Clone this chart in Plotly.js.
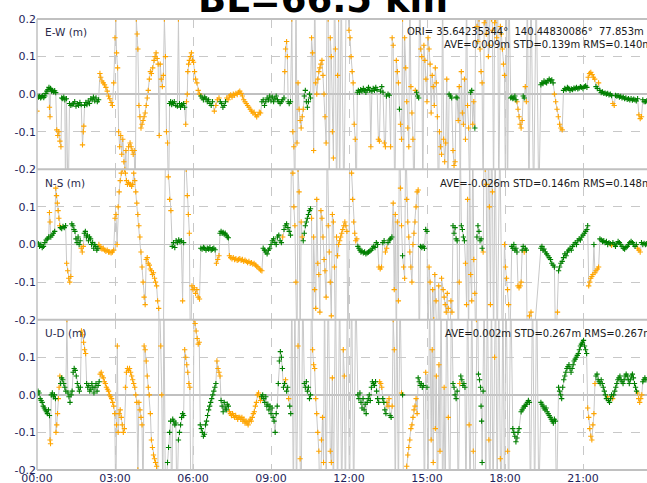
<!DOCTYPE html>
<html>
<head>
<meta charset="utf-8">
<script src="https://cdn.plot.ly/plotly-3.0.1.min.js"></script>
<style>html,body{margin:0;padding:0;background:#fff;}#chart{width:647px;height:483px;}</style>
</head>
<body>
<div id="chart"></div>
<script>
// [time (h), value (m), quality: 1 = fix, 2 = float]
const EW = [
[0.00,-0.045,2],[0.02,-0.005,1],[0.06,-0.008,1],[0.10,-0.006,1],[0.14,-0.010,1],[0.18,-0.007,1],[0.22,-0.004,1],[0.26,-0.009,1],[0.30,-0.005,1],[0.34,0.002,1],[0.38,0.008,1],[0.42,0.012,1],[0.46,0.018,1],[0.48,-0.035,2],[0.50,-0.060,2],[0.52,0.015,1],[0.56,0.008,1],[0.60,0.010,1],[0.64,0.006,1],[0.68,0.009,1],[0.72,0.004,1],[0.76,-0.095,2],[0.80,-0.110,2],[0.84,-0.100,2],[0.88,-0.125,2],[0.92,-0.140,2],[0.95,-0.010,1],[0.99,-0.012,1],[1.03,-0.008,1],[1.07,-0.015,1],[1.10,-0.3,2],[1.13,-0.012,1],[1.20,-0.3,2],[1.25,-0.025,1],[1.30,-0.030,1],[1.35,-0.028,1],[1.40,-0.025,1],[1.45,-0.020,1],[1.50,-0.032,1],[1.55,-0.025,1],[1.60,-0.030,1],[1.65,-0.022,1],[1.70,-0.028,1],[1.75,-0.135,2],[1.78,-0.100,2],[1.80,-0.085,2],[1.83,-0.030,1],[1.88,-0.022,1],[1.92,-0.028,1],[1.97,-0.018,1],[2.02,-0.025,1],[2.07,-0.012,1],[2.12,-0.015,1],[2.17,-0.008,1],[2.22,-0.018,1],[2.27,-0.010,1],[2.32,-0.020,1],[2.37,-0.015,1],[2.42,0.055,2],[2.45,0.045,2],[2.50,0.035,2],[2.55,0.030,2],[2.60,0.025,2],[2.65,0.018,2],[2.70,0.008,2],[2.75,-0.005,2],[2.80,-0.012,2],[2.85,-0.022,2],[2.90,-0.030,2],[2.95,0.030,2],[3.00,0.150,2],[3.03,0.200,2],[3.06,0.110,2],[3.10,0.070,2],[3.14,-0.100,2],[3.18,-0.140,2],[3.22,-0.110,2],[3.26,-0.160,2],[3.30,-0.120,2],[3.34,-0.180,2],[3.38,-0.200,2],[3.42,-0.150,2],[3.46,-0.3,2],[3.52,-0.140,2],[3.58,-0.130,2],[3.62,-0.140,2],[3.66,-0.150,2],[3.70,-0.160,2],[3.74,-0.150,2],[3.78,-0.3,2],[3.82,0.200,2],[3.85,0.160,2],[3.88,0.120,2],[3.92,-0.030,2],[3.96,-0.060,2],[4.00,-0.090,2],[4.04,-0.080,2],[4.08,-0.070,2],[4.12,-0.060,2],[4.16,-0.050,2],[4.20,-0.030,2],[4.24,-0.010,2],[4.28,0.010,2],[4.32,0.040,2],[4.36,0.060,2],[4.40,0.055,2],[4.45,0.070,2],[4.50,0.090,2],[4.54,0.100,2],[4.58,0.110,2],[4.62,0.095,2],[4.66,0.080,2],[4.70,-0.110,2],[4.74,0.080,2],[4.78,0.040,2],[4.82,0.020,2],[4.86,0.050,2],[4.90,0.200,2],[4.94,0.100,2],[4.98,-0.100,2],[5.02,-0.130,2],[5.06,-0.3,2],[5.10,-0.025,1],[5.14,-0.020,1],[5.18,-0.028,1],[5.21,-0.022,1],[5.24,-0.025,1],[5.28,-0.020,1],[5.34,-0.030,1],[5.40,-0.032,1],[5.44,0.200,2],[5.48,-0.025,1],[5.52,-0.035,1],[5.56,-0.028,1],[5.60,-0.030,1],[5.64,-0.025,1],[5.68,-0.035,1],[5.72,-0.080,2],[5.75,-0.020,2],[5.78,0.000,2],[5.80,0.060,2],[5.83,0.080,2],[5.86,0.090,2],[5.90,0.100,2],[5.94,0.110,2],[5.98,0.090,2],[6.02,0.085,2],[6.06,0.060,2],[6.10,0.040,2],[6.15,0.030,2],[6.20,0.010,2],[6.25,0.000,2],[6.30,-0.005,1],[6.35,-0.010,1],[6.40,-0.015,1],[6.45,-0.008,1],[6.50,-0.012,1],[6.55,-0.020,1],[6.60,-0.015,1],[6.65,-0.025,1],[6.70,-0.030,1],[6.75,-0.020,1],[6.82,-0.045,2],[6.88,-0.030,2],[6.94,-0.015,2],[7.00,-0.010,2],[7.05,-0.020,1],[7.10,-0.025,1],[7.15,-0.035,1],[7.20,-0.030,1],[7.25,-0.020,1],[7.30,-0.010,2],[7.35,-0.015,2],[7.40,-0.005,2],[7.45,-0.002,2],[7.50,-0.008,2],[7.55,0.000,2],[7.60,-0.003,2],[7.65,0.002,2],[7.70,-0.001,2],[7.75,0.005,2],[7.80,0.008,2],[7.85,0.002,2],[7.90,-0.005,2],[7.95,-0.015,2],[8.00,-0.020,2],[8.05,-0.025,2],[8.10,-0.030,2],[8.15,-0.035,2],[8.20,-0.040,2],[8.25,-0.045,2],[8.30,-0.050,2],[8.35,-0.048,2],[8.40,-0.055,2],[8.45,-0.060,2],[8.50,-0.055,2],[8.55,-0.048,2],[8.60,-0.050,2],[8.65,-0.020,1],[8.70,-0.015,1],[8.75,-0.030,1],[8.80,-0.020,1],[8.85,-0.010,1],[8.90,-0.015,1],[8.95,-0.005,1],[9.00,-0.018,1],[9.05,-0.008,1],[9.10,-0.020,1],[9.15,-0.012,1],[9.20,-0.005,1],[9.25,-0.015,1],[9.30,-0.020,1],[9.35,-0.025,1],[9.40,-0.020,1],[9.45,-0.015,1],[9.50,-0.010,1],[9.53,0.060,2],[9.56,0.120,2],[9.60,0.140,2],[9.63,0.100,2],[9.66,-0.020,1],[9.70,-0.025,1],[9.75,-0.020,1],[9.80,0.200,2],[9.84,-0.100,2],[9.88,-0.140,2],[9.92,-0.3,2],[9.96,0.3,2],[10.00,-0.130,2],[10.04,0.030,2],[10.08,-0.040,2],[10.12,-0.070,2],[10.16,-0.090,2],[10.20,-0.060,2],[10.24,-0.040,2],[10.28,-0.005,1],[10.32,0.010,1],[10.36,-0.020,1],[10.40,-0.035,1],[10.44,-0.020,1],[10.48,0.000,1],[10.52,-0.010,1],[10.56,0.150,2],[10.60,0.110,2],[10.64,-0.150,2],[10.68,0.3,2],[10.72,0.030,2],[10.76,0.000,2],[10.80,0.040,2],[10.84,0.060,2],[10.88,0.070,2],[10.92,0.080,2],[10.96,0.090,2],[11.00,0.050,2],[11.04,0.000,2],[11.08,-0.060,2],[11.12,-0.130,2],[11.16,0.3,2],[11.20,0.200,2],[11.24,-0.3,2],[11.28,0.150,2],[11.32,0.100,2],[11.36,-0.100,2],[11.40,-0.170,2],[11.44,0.3,2],[11.48,0.120,2],[11.52,-0.3,2],[11.56,0.050,2],[11.60,0.200,2],[11.64,-0.3,2],[11.70,0.3,2],[11.80,-0.3,2],[11.90,0.3,2],[12.00,0.170,2],[12.04,0.150,2],[12.08,0.100,2],[12.12,0.060,2],[12.16,0.030,2],[12.20,-0.080,2],[12.24,-0.120,2],[12.28,-0.3,2],[12.32,0.005,1],[12.36,0.010,1],[12.40,0.005,1],[12.45,0.012,1],[12.50,0.008,1],[12.55,0.015,1],[12.60,0.010,1],[12.65,0.005,1],[12.70,0.012,1],[12.75,0.018,1],[12.80,0.010,1],[12.84,-0.140,2],[12.88,0.008,1],[12.93,0.015,1],[12.98,0.010,1],[13.03,0.018,1],[13.08,0.012,1],[13.13,-0.120,2],[13.17,-0.125,2],[13.21,0.008,1],[13.26,0.020,1],[13.31,0.005,1],[13.36,-0.130,2],[13.40,-0.140,2],[13.44,-0.005,1],[13.50,0.000,1],[13.55,-0.003,1],[13.60,-0.140,2],[13.66,0.150,2],[13.70,0.130,2],[13.76,-0.3,2],[13.82,0.090,2],[13.86,0.060,2],[13.90,0.030,2],[13.94,-0.040,1],[13.98,-0.080,2],[14.02,-0.120,2],[14.06,0.200,2],[14.10,-0.3,2],[14.14,0.150,2],[14.18,0.070,2],[14.22,-0.020,2],[14.26,-0.090,2],[14.30,-0.140,2],[14.34,0.3,2],[14.38,0.020,2],[14.42,-0.050,2],[14.46,-0.120,2],[14.50,-0.3,2],[14.55,0.010,2],[14.60,0.005,1],[14.64,-0.005,1],[14.68,-0.010,1],[14.72,0.3,2],[14.76,0.120,2],[14.80,0.100,2],[14.84,-0.3,2],[14.88,0.130,2],[14.92,0.090,2],[14.96,0.040,2],[15.00,-0.020,2],[15.04,0.150,2],[15.08,0.120,2],[15.12,0.080,2],[15.16,-0.050,2],[15.20,0.050,2],[15.24,0.020,2],[15.28,-0.030,2],[15.32,0.070,2],[15.36,0.030,2],[15.40,-0.060,2],[15.44,-0.3,2],[15.48,-0.100,2],[15.52,-0.140,2],[15.56,-0.160,2],[15.60,0.3,2],[15.64,-0.120,2],[15.68,-0.180,2],[15.72,-0.130,2],[15.76,0.040,2],[15.80,-0.3,2],[15.85,0.000,1],[15.90,-0.005,1],[15.95,-0.010,1],[16.00,-0.150,2],[16.04,-0.190,2],[16.08,-0.180,2],[16.12,-0.008,1],[16.16,-0.010,1],[16.20,-0.070,2],[16.24,0.020,2],[16.28,-0.3,2],[16.32,0.060,2],[16.36,-0.050,2],[16.40,-0.080,2],[16.44,0.040,2],[16.48,-0.120,2],[16.52,0.3,2],[16.56,-0.030,2],[16.60,-0.090,2],[16.64,-0.3,2],[16.68,0.005,1],[16.72,0.010,1],[16.76,-0.080,2],[16.80,-0.020,2],[16.84,-0.090,1],[16.88,0.3,2],[16.92,0.180,2],[16.96,0.140,2],[17.00,0.200,2],[17.04,0.120,2],[17.08,0.060,2],[17.12,0.030,2],[17.16,-0.3,2],[17.20,0.190,2],[17.24,0.200,2],[17.28,0.160,2],[17.32,0.3,2],[17.36,0.100,2],[17.40,0.130,2],[17.44,0.3,2],[17.48,0.200,2],[17.52,0.170,2],[17.56,-0.3,2],[17.60,0.190,2],[17.64,0.200,2],[17.68,0.150,2],[17.72,0.3,2],[17.76,-0.3,2],[17.82,0.180,2],[17.86,0.160,2],[17.90,0.120,2],[17.94,0.080,2],[17.98,0.050,2],[18.02,-0.3,2],[18.06,0.3,2],[18.10,-0.3,2],[18.15,0.3,2],[18.22,-0.010,1],[18.26,-0.008,1],[18.30,-0.012,1],[18.34,-0.010,1],[18.38,-0.005,1],[18.42,-0.015,1],[18.46,-0.020,2],[18.50,-0.040,2],[18.54,-0.060,2],[18.58,-0.080,2],[18.62,-0.090,2],[18.66,-0.070,2],[18.70,-0.005,1],[18.74,-0.010,1],[18.78,0.020,2],[18.82,-0.020,2],[18.86,0.3,2],[18.92,-0.3,2],[19.00,0.3,2],[19.10,-0.3,2],[19.20,0.3,2],[19.30,-0.3,2],[19.38,0.025,1],[19.42,0.030,1],[19.46,0.028,1],[19.50,0.035,1],[19.55,0.032,1],[19.60,0.030,1],[19.65,0.036,1],[19.70,0.040,1],[19.75,0.035,1],[19.80,0.038,1],[19.85,0.030,1],[19.90,0.000,2],[19.95,-0.020,2],[20.00,-0.040,2],[20.05,-0.060,2],[20.10,-0.080,2],[20.15,-0.090,2],[20.20,-0.095,2],[20.25,0.010,1],[20.30,0.015,1],[20.35,0.012,1],[20.40,0.018,1],[20.45,0.015,1],[20.50,0.010,1],[20.55,0.014,1],[20.60,0.012,1],[20.65,0.016,1],[20.70,0.015,1],[20.75,0.018,1],[20.80,0.014,1],[20.85,0.016,1],[20.90,0.020,1],[20.95,0.018,1],[21.00,0.015,1],[21.05,0.020,1],[21.10,0.022,1],[21.15,0.018,1],[21.20,0.045,2],[21.25,0.055,2],[21.30,0.058,2],[21.35,0.052,2],[21.40,0.045,2],[21.45,0.040,2],[21.50,0.020,1],[21.55,0.015,1],[21.60,0.030,2],[21.65,0.010,1],[21.70,0.004,1],[21.75,0.006,1],[21.80,0.002,1],[21.85,0.003,1],[21.90,0.000,1],[21.95,0.002,1],[22.00,-0.002,1],[22.05,0.000,1],[22.10,-0.004,1],[22.15,-0.025,2],[22.20,-0.030,2],[22.25,-0.003,1],[22.30,-0.005,1],[22.35,-0.004,1],[22.40,-0.008,1],[22.45,-0.006,1],[22.50,-0.010,1],[22.55,-0.008,1],[22.60,-0.012,1],[22.65,-0.010,1],[22.70,-0.014,1],[22.75,-0.012,1],[22.80,-0.015,1],[22.85,-0.012,1],[22.90,-0.016,1],[22.95,-0.013,1],[23.00,-0.015,1],[23.05,-0.018,1],[23.10,-0.012,1],[23.15,-0.055,2],[23.20,-0.065,2],[23.25,-0.060,2],[23.30,-0.015,1],[23.35,-0.020,1],[23.40,-0.020,1],[23.45,-0.018,1]
];
const NS = [
[0.00,0.005,1],[0.05,0.002,1],[0.10,-0.005,1],[0.15,0.000,1],[0.20,-0.008,1],[0.25,-0.005,1],[0.30,0.005,1],[0.35,0.012,1],[0.40,0.015,1],[0.45,0.020,1],[0.48,0.085,2],[0.50,0.060,2],[0.53,0.020,1],[0.58,0.025,1],[0.63,0.030,1],[0.68,0.035,1],[0.72,0.150,2],[0.75,0.130,2],[0.78,0.110,2],[0.81,0.090,2],[0.84,0.070,2],[0.87,0.050,2],[0.90,0.045,1],[0.95,0.042,1],[1.00,0.048,1],[1.05,0.045,1],[1.10,0.050,1],[1.14,-0.050,2],[1.18,-0.070,2],[1.22,-0.090,2],[1.26,-0.100,2],[1.30,-0.085,2],[1.34,0.055,1],[1.38,0.050,1],[1.42,0.040,1],[1.46,0.035,1],[1.50,0.015,1],[1.54,0.005,1],[1.58,0.020,1],[1.62,0.000,1],[1.66,0.010,1],[1.70,-0.010,2],[1.74,-0.020,2],[1.78,-0.005,2],[1.82,0.030,1],[1.86,0.035,1],[1.90,0.020,1],[1.94,0.025,1],[1.98,0.010,1],[2.02,0.020,1],[2.06,0.015,1],[2.10,0.000,1],[2.14,0.005,1],[2.18,-0.010,1],[2.22,0.000,1],[2.26,-0.005,1],[2.30,-0.015,1],[2.34,-0.010,1],[2.38,0.000,2],[2.42,-0.005,2],[2.46,-0.010,2],[2.50,-0.012,2],[2.55,-0.010,2],[2.60,-0.015,2],[2.65,-0.018,2],[2.70,-0.015,2],[2.75,-0.020,2],[2.80,-0.020,2],[2.85,-0.022,2],[2.90,-0.020,2],[2.95,-0.015,2],[3.00,0.070,2],[3.04,0.080,2],[3.08,0.000,2],[3.12,0.100,2],[3.16,0.140,2],[3.20,0.170,2],[3.24,0.190,2],[3.28,0.200,2],[3.32,0.210,2],[3.36,0.200,2],[3.40,0.190,2],[3.44,0.170,2],[3.48,0.160,2],[3.52,0.165,2],[3.56,0.160,2],[3.60,0.160,2],[3.64,0.155,2],[3.68,0.160,2],[3.72,0.190,2],[3.76,0.170,2],[3.80,0.140,2],[3.84,0.110,2],[3.88,0.080,2],[3.92,0.050,2],[3.96,0.020,2],[4.00,-0.020,2],[4.04,-0.060,2],[4.08,-0.100,2],[4.12,-0.140,2],[4.16,-0.160,2],[4.20,-0.040,2],[4.24,-0.035,2],[4.28,-0.050,2],[4.32,-0.055,2],[4.36,-0.065,2],[4.40,-0.070,2],[4.44,-0.080,2],[4.48,-0.075,2],[4.52,-0.090,2],[4.56,-0.100,2],[4.60,-0.110,2],[4.64,-0.150,2],[4.68,-0.170,2],[4.72,-0.3,2],[4.85,-0.3,2],[4.95,0.3,2],[5.05,0.180,2],[5.10,0.120,2],[5.15,0.090,2],[5.20,-0.005,1],[5.25,0.005,1],[5.30,-0.008,1],[5.35,0.010,1],[5.40,0.005,1],[5.45,0.012,1],[5.50,0.008,1],[5.55,0.010,1],[5.60,-0.150,2],[5.64,0.005,1],[5.70,0.3,2],[5.74,0.200,2],[5.78,0.130,2],[5.82,0.080,2],[5.86,0.030,2],[5.90,-0.3,2],[5.96,-0.110,2],[6.00,-0.120,2],[6.05,-0.115,2],[6.10,-0.130,2],[6.15,-0.120,2],[6.20,-0.140,2],[6.25,-0.145,2],[6.30,-0.010,1],[6.35,-0.012,1],[6.40,-0.008,1],[6.45,-0.010,1],[6.50,-0.015,1],[6.55,-0.010,1],[6.60,-0.012,1],[6.65,-0.008,1],[6.70,-0.015,1],[6.75,-0.012,1],[6.80,-0.010,1],[6.85,-0.014,1],[6.90,-0.050,2],[6.95,-0.040,2],[7.00,-0.030,2],[7.04,0.030,1],[7.08,0.035,1],[7.12,0.030,1],[7.16,0.032,1],[7.20,0.028,1],[7.24,0.030,1],[7.28,0.025,1],[7.32,0.020,1],[7.36,0.018,1],[7.40,-0.030,2],[7.45,-0.035,2],[7.50,-0.038,2],[7.55,-0.035,2],[7.60,-0.040,2],[7.65,-0.038,2],[7.70,-0.042,2],[7.75,-0.040,2],[7.80,-0.038,2],[7.85,-0.042,2],[7.90,-0.040,2],[7.95,-0.045,2],[8.00,-0.042,2],[8.05,-0.045,2],[8.10,-0.048,2],[8.15,-0.045,2],[8.20,-0.050,2],[8.25,-0.048,2],[8.30,-0.052,2],[8.35,-0.050,2],[8.40,-0.055,2],[8.45,-0.058,2],[8.50,-0.060,2],[8.55,-0.065,2],[8.60,-0.068,2],[8.65,-0.070,2],[8.70,-0.010,1],[8.75,-0.015,1],[8.80,-0.020,1],[8.85,-0.025,1],[8.90,-0.015,1],[8.95,-0.010,1],[9.00,0.000,1],[9.05,0.010,1],[9.10,0.015,1],[9.15,0.005,1],[9.20,0.000,1],[9.25,0.020,1],[9.30,0.025,1],[9.35,0.010,1],[9.40,0.005,1],[9.45,0.020,2],[9.50,0.040,1],[9.55,0.050,1],[9.60,0.055,1],[9.65,0.045,1],[9.70,0.035,1],[9.75,0.025,1],[9.80,0.3,2],[9.84,0.190,2],[9.88,0.100,2],[9.92,0.050,2],[9.96,-0.100,2],[10.00,-0.3,2],[10.04,0.200,2],[10.08,0.140,2],[10.12,-0.3,2],[10.16,0.060,2],[10.20,0.020,2],[10.24,0.010,1],[10.28,0.030,1],[10.32,0.050,1],[10.36,0.060,1],[10.40,0.070,1],[10.44,0.080,1],[10.48,0.090,1],[10.52,0.095,1],[10.56,0.070,2],[10.60,-0.3,2],[10.64,0.020,2],[10.68,-0.120,2],[10.72,-0.170,2],[10.76,0.120,2],[10.80,-0.050,2],[10.84,-0.080,2],[10.88,-0.180,2],[10.92,0.090,2],[10.96,0.070,2],[11.00,0.020,2],[11.04,-0.040,2],[11.08,-0.070,2],[11.12,-0.140,2],[11.16,0.3,2],[11.20,0.050,2],[11.24,-0.020,2],[11.28,-0.100,2],[11.32,-0.190,2],[11.36,0.080,2],[11.40,0.060,2],[11.44,-0.060,2],[11.48,-0.3,2],[11.52,0.020,2],[11.56,-0.030,2],[11.60,0.000,2],[11.64,0.010,2],[11.68,0.020,2],[11.72,0.030,2],[11.76,0.040,2],[11.80,0.050,2],[11.84,0.060,2],[11.88,0.050,2],[11.92,0.035,2],[11.96,-0.3,2],[12.04,0.3,2],[12.10,0.190,2],[12.14,0.120,2],[12.18,0.060,2],[12.22,0.030,2],[12.26,0.010,2],[12.30,0.015,2],[12.34,-0.005,1],[12.38,-0.010,1],[12.42,-0.015,1],[12.46,-0.020,1],[12.50,-0.018,1],[12.55,-0.022,1],[12.60,-0.020,1],[12.65,-0.025,1],[12.70,-0.022,1],[12.75,-0.020,1],[12.80,-0.018,1],[12.85,-0.015,1],[12.90,-0.010,1],[12.95,-0.005,1],[13.00,-0.008,1],[13.05,0.005,1],[13.10,0.000,1],[13.15,-0.060,2],[13.20,-0.065,2],[13.25,-0.060,2],[13.30,0.005,1],[13.35,0.010,1],[13.40,-0.020,2],[13.45,-0.010,2],[13.50,0.005,1],[13.55,0.012,1],[13.60,0.015,1],[13.65,0.020,1],[13.70,0.110,2],[13.74,-0.120,2],[13.78,0.080,2],[13.82,-0.3,2],[13.86,0.060,2],[13.90,-0.150,2],[13.94,0.3,2],[13.98,0.150,2],[14.02,0.050,2],[14.06,-0.030,1],[14.10,-0.060,2],[14.14,-0.090,2],[14.18,0.3,2],[14.22,0.120,2],[14.26,0.060,2],[14.30,0.020,2],[14.34,-0.020,2],[14.38,-0.060,2],[14.42,-0.100,2],[14.46,0.000,2],[14.50,0.030,2],[14.54,0.060,2],[14.58,0.100,2],[14.62,0.140,2],[14.66,0.145,2],[14.70,-0.3,2],[14.75,-0.005,1],[14.80,-0.008,1],[14.85,-0.005,1],[14.90,-0.010,1],[14.95,0.040,1],[15.00,0.035,1],[15.04,-0.3,2],[15.08,-0.060,2],[15.12,-0.100,2],[15.16,-0.3,2],[15.22,-0.120,2],[15.26,-0.200,2],[15.30,-0.080,2],[15.35,-0.150,2],[15.40,-0.3,2],[15.45,-0.110,2],[15.50,-0.3,2],[15.56,-0.090,2],[15.62,-0.120,2],[15.66,-0.140,2],[15.70,-0.160,2],[15.74,-0.180,2],[15.78,-0.130,2],[15.82,-0.170,2],[15.86,-0.3,2],[15.92,-0.150,2],[15.96,-0.180,2],[16.00,0.050,1],[16.04,0.030,1],[16.08,0.045,1],[16.12,0.015,1],[16.16,0.010,1],[16.20,-0.3,2],[16.24,-0.100,2],[16.28,0.3,2],[16.32,0.050,1],[16.36,0.040,1],[16.40,0.020,1],[16.44,0.010,1],[16.48,-0.050,2],[16.52,-0.160,2],[16.56,0.120,2],[16.60,-0.3,2],[16.64,0.3,2],[16.68,-0.080,2],[16.72,-0.150,2],[16.76,0.3,2],[16.80,-0.040,2],[16.84,-0.130,2],[16.88,-0.3,2],[16.92,0.020,1],[16.96,0.050,1],[17.00,0.035,1],[17.04,0.010,1],[17.08,0.015,1],[17.12,-0.010,1],[17.16,-0.020,2],[17.20,0.3,2],[17.24,0.200,2],[17.28,0.160,2],[17.32,-0.3,2],[17.36,0.3,2],[17.40,0.100,2],[17.44,-0.160,2],[17.48,0.3,2],[17.52,0.140,2],[17.56,-0.3,2],[17.62,0.3,2],[17.70,-0.3,2],[17.80,0.3,2],[17.90,-0.3,2],[17.98,0.000,2],[18.02,-0.060,2],[18.06,-0.090,2],[18.10,-0.120,2],[18.14,-0.160,2],[18.18,-0.3,2],[18.26,-0.005,1],[18.30,-0.010,1],[18.34,0.000,1],[18.38,-0.015,1],[18.42,-0.010,1],[18.46,-0.020,1],[18.50,-0.110,2],[18.54,-0.115,2],[18.58,-0.110,2],[18.62,-0.100,2],[18.66,-0.015,1],[18.70,-0.005,1],[18.74,-0.020,2],[18.78,-0.010,1],[18.82,-0.015,1],[18.86,-0.3,2],[18.94,-0.190,2],[19.00,-0.180,2],[19.06,-0.3,2],[19.38,-0.010,1],[19.42,-0.005,1],[19.46,-0.015,1],[19.50,-0.012,1],[19.55,-0.020,1],[19.60,-0.025,1],[19.65,-0.030,1],[19.70,-0.035,1],[19.75,-0.040,1],[19.80,-0.050,1],[19.85,-0.055,1],[19.90,-0.060,1],[19.95,-0.3,2],[20.02,-0.180,2],[20.06,-0.070,1],[20.10,-0.060,1],[20.15,-0.050,1],[20.20,-0.045,1],[20.25,-0.035,1],[20.30,-0.025,1],[20.35,-0.030,1],[20.40,-0.020,1],[20.45,-0.015,1],[20.50,-0.010,1],[20.55,-0.015,1],[20.60,-0.005,1],[20.65,0.000,1],[20.70,0.005,1],[20.75,0.000,1],[20.80,0.010,1],[20.85,0.015,1],[20.90,0.012,1],[20.95,0.020,1],[21.00,0.025,1],[21.05,0.030,1],[21.10,0.035,1],[21.15,0.040,1],[21.18,0.050,1],[21.22,-0.110,2],[21.26,-0.100,2],[21.30,-0.090,2],[21.34,-0.085,2],[21.38,-0.080,2],[21.42,0.000,1],[21.46,-0.075,2],[21.50,-0.070,2],[21.55,-0.065,2],[21.60,-0.060,2],[21.65,0.015,1],[21.70,0.012,1],[21.75,0.008,1],[21.80,0.010,1],[21.85,0.005,1],[21.90,0.008,1],[21.95,0.000,1],[22.00,0.005,1],[22.05,0.002,1],[22.10,-0.002,2],[22.15,0.005,1],[22.20,0.000,1],[22.25,-0.005,1],[22.30,0.002,1],[22.35,0.008,1],[22.40,0.005,1],[22.45,0.000,1],[22.50,-0.005,1],[22.55,-0.010,1],[22.60,-0.012,1],[22.65,-0.008,1],[22.70,-0.005,1],[22.75,0.000,1],[22.80,0.005,1],[22.85,0.008,1],[22.90,0.005,1],[22.95,0.000,1],[23.00,-0.005,1],[23.05,0.000,1],[23.10,-0.010,2],[23.15,-0.015,2],[23.20,-0.020,2],[23.25,0.005,1],[23.30,0.000,1],[23.35,0.003,1],[23.40,0.000,1],[23.45,0.002,1]
];
const UD = [
[0.00,0.000,1],[0.04,0.010,1],[0.08,0.005,1],[0.12,-0.010,1],[0.16,-0.015,1],[0.20,-0.020,1],[0.24,-0.030,1],[0.28,-0.035,1],[0.32,-0.040,1],[0.36,-0.045,1],[0.40,-0.050,1],[0.44,-0.040,1],[0.48,-0.055,1],[0.50,-0.120,2],[0.52,-0.130,2],[0.55,0.000,1],[0.59,0.005,1],[0.63,-0.005,1],[0.67,0.000,1],[0.71,-0.010,1],[0.73,-0.100,2],[0.76,-0.080,2],[0.79,-0.050,2],[0.82,-0.010,2],[0.85,0.020,2],[0.88,0.050,2],[0.91,0.030,1],[0.95,0.045,1],[0.99,0.040,1],[1.03,0.030,1],[1.07,0.020,1],[1.11,0.010,1],[1.15,0.200,2],[1.19,0.005,1],[1.23,-0.005,1],[1.27,-0.020,1],[1.31,0.000,1],[1.35,0.010,1],[1.39,0.060,1],[1.43,0.070,1],[1.47,0.065,1],[1.51,0.050,1],[1.55,0.030,1],[1.59,0.020,1],[1.63,0.010,1],[1.67,0.020,1],[1.71,0.170,2],[1.75,0.160,2],[1.79,0.140,2],[1.83,0.120,2],[1.87,0.110,2],[1.91,0.030,1],[1.95,0.020,1],[1.99,0.025,1],[2.03,0.010,1],[2.07,0.015,1],[2.11,0.030,1],[2.15,0.020,1],[2.19,0.005,1],[2.23,0.020,1],[2.27,0.030,1],[2.31,0.010,1],[2.35,0.025,1],[2.39,0.035,1],[2.43,0.055,2],[2.47,0.060,2],[2.51,0.050,2],[2.55,0.045,2],[2.59,0.035,2],[2.63,0.030,2],[2.67,0.020,2],[2.71,0.015,2],[2.75,0.010,2],[2.79,0.000,2],[2.83,-0.005,2],[2.87,-0.010,2],[2.91,-0.020,2],[2.95,-0.030,2],[2.99,-0.050,2],[3.03,-0.3,2],[3.06,-0.080,2],[3.09,0.130,2],[3.12,-0.100,2],[3.16,-0.050,2],[3.20,-0.040,2],[3.24,-0.060,2],[3.28,-0.080,2],[3.32,-0.100,2],[3.36,-0.090,2],[3.40,0.020,2],[3.44,0.060,2],[3.48,0.070,2],[3.52,0.065,2],[3.56,0.070,2],[3.60,0.060,2],[3.64,0.050,2],[3.68,0.040,2],[3.72,0.030,2],[3.76,0.020,2],[3.80,0.000,2],[3.84,-0.020,2],[3.88,-0.200,2],[3.92,-0.020,2],[3.96,-0.040,2],[4.00,-0.060,2],[4.04,-0.080,2],[4.08,-0.3,2],[4.12,0.130,2],[4.16,0.120,2],[4.20,0.090,2],[4.24,0.050,2],[4.28,0.020,2],[4.32,0.000,2],[4.36,-0.050,2],[4.40,-0.120,2],[4.44,-0.140,2],[4.48,-0.160,2],[4.52,-0.170,2],[4.56,-0.180,2],[4.60,-0.190,2],[4.64,-0.3,2],[4.70,0.3,2],[4.76,0.130,2],[4.80,0.000,2],[4.84,-0.3,2],[4.88,0.3,2],[4.94,-0.3,2],[5.02,-0.180,1],[5.06,-0.140,1],[5.10,-0.100,1],[5.14,-0.070,1],[5.18,-0.3,2],[5.22,-0.065,1],[5.26,-0.070,1],[5.30,-0.080,1],[5.34,-0.075,1],[5.38,-0.3,2],[5.44,-0.120,1],[5.48,-0.100,1],[5.52,-0.080,1],[5.56,-0.060,1],[5.60,-0.050,1],[5.64,-0.055,1],[5.68,0.120,2],[5.72,0.100,2],[5.76,0.080,2],[5.80,0.060,2],[5.84,0.030,2],[5.88,0.020,2],[5.92,-0.3,2],[5.98,-0.3,2],[6.04,0.200,2],[6.08,0.190,2],[6.12,0.170,2],[6.16,0.150,2],[6.20,0.135,2],[6.24,0.140,2],[6.28,-0.080,1],[6.32,-0.090,1],[6.36,-0.100,1],[6.40,-0.110,1],[6.44,-0.105,1],[6.48,-0.080,1],[6.52,-0.070,1],[6.56,-0.055,1],[6.60,-0.040,1],[6.64,-0.030,1],[6.68,-0.020,1],[6.72,-0.010,1],[6.76,0.000,1],[6.80,0.010,1],[6.84,0.020,1],[6.88,0.030,1],[6.92,0.090,2],[6.96,0.070,2],[7.00,0.060,2],[7.04,0.050,2],[7.08,-0.015,1],[7.12,-0.030,1],[7.16,-0.045,1],[7.20,-0.020,1],[7.24,-0.035,1],[7.28,-0.040,1],[7.32,-0.025,1],[7.36,-0.030,1],[7.40,-0.045,2],[7.44,-0.050,2],[7.48,-0.055,2],[7.52,-0.050,2],[7.56,-0.055,2],[7.60,-0.060,2],[7.64,-0.055,2],[7.68,-0.060,2],[7.72,-0.065,2],[7.76,-0.060,2],[7.80,-0.060,2],[7.84,-0.065,2],[7.88,-0.060,2],[7.92,-0.070,2],[7.96,-0.065,2],[8.00,-0.075,2],[8.04,-0.070,2],[8.08,-0.075,2],[8.12,-0.080,2],[8.16,-0.070,2],[8.20,-0.065,2],[8.24,-0.070,2],[8.28,-0.060,2],[8.32,-0.050,2],[8.36,-0.045,2],[8.40,-0.030,2],[8.44,-0.020,2],[8.48,0.000,2],[8.52,0.005,2],[8.56,-0.005,2],[8.60,-0.015,2],[8.64,-0.005,1],[8.68,0.000,1],[8.72,-0.010,1],[8.76,-0.020,1],[8.80,-0.005,1],[8.84,-0.030,1],[8.88,-0.025,1],[8.92,-0.040,1],[8.96,-0.030,1],[9.00,-0.050,1],[9.04,-0.035,1],[9.08,-0.060,1],[9.12,-0.070,1],[9.16,-0.100,1],[9.20,-0.050,1],[9.24,-0.030,1],[9.28,0.030,1],[9.32,0.090,1],[9.36,0.115,1],[9.40,0.100,1],[9.44,0.070,1],[9.48,0.020,1],[9.52,0.030,1],[9.56,0.040,2],[9.60,0.010,1],[9.64,0.020,1],[9.68,-0.010,2],[9.72,-0.030,1],[9.76,-0.050,1],[9.80,0.3,2],[9.86,-0.3,2],[9.92,0.3,2],[9.98,-0.3,2],[10.04,0.130,2],[10.08,0.3,2],[10.12,-0.170,2],[10.16,-0.3,2],[10.22,0.3,2],[10.28,0.030,1],[10.32,0.020,1],[10.36,0.035,1],[10.40,0.010,1],[10.44,0.020,1],[10.48,-0.010,1],[10.52,0.000,1],[10.56,0.3,2],[10.60,0.120,2],[10.64,0.080,2],[10.68,0.070,2],[10.72,-0.010,2],[10.76,-0.050,2],[10.80,-0.100,2],[10.84,-0.150,2],[10.88,-0.3,2],[10.94,-0.120,2],[10.98,-0.060,2],[11.02,-0.180,2],[11.06,0.3,2],[11.12,-0.3,2],[11.20,0.3,2],[11.28,-0.150,2],[11.32,-0.180,2],[11.36,0.045,2],[11.40,-0.3,2],[11.48,0.3,2],[11.56,-0.3,2],[11.64,0.3,2],[11.72,-0.3,2],[11.78,0.120,2],[11.82,0.050,2],[11.86,-0.3,2],[11.94,0.3,2],[12.02,-0.3,2],[12.10,0.3,2],[12.18,-0.3,2],[12.26,0.3,2],[12.34,0.000,1],[12.38,-0.010,1],[12.42,0.005,1],[12.46,-0.020,1],[12.50,-0.035,1],[12.54,-0.010,1],[12.58,-0.040,1],[12.62,-0.025,1],[12.66,-0.050,1],[12.70,-0.020,1],[12.74,-0.010,1],[12.78,0.000,1],[12.82,-0.015,1],[12.86,0.020,1],[12.90,0.035,1],[12.94,0.030,1],[12.98,0.025,1],[13.02,0.035,1],[13.06,0.010,1],[13.10,-0.010,1],[13.14,-0.020,1],[13.18,0.035,2],[13.22,0.030,2],[13.26,0.020,2],[13.30,-0.010,1],[13.34,-0.020,1],[13.38,-0.040,1],[13.42,-0.050,1],[13.46,-0.020,2],[13.50,-0.030,2],[13.54,-0.010,2],[13.58,-0.055,1],[13.62,-0.060,1],[13.66,-0.030,2],[13.70,0.200,2],[13.74,0.120,2],[13.78,-0.3,2],[13.84,0.3,2],[13.90,-0.3,2],[13.96,0.3,2],[14.02,0.005,2],[14.06,0.000,1],[14.10,-0.3,2],[14.16,-0.3,2],[14.22,-0.190,2],[14.26,-0.160,2],[14.30,-0.140,2],[14.34,-0.120,2],[14.38,-0.090,2],[14.42,-0.080,2],[14.46,-0.060,2],[14.50,-0.040,2],[14.54,-0.030,2],[14.58,-0.010,2],[14.62,-0.050,2],[14.66,0.045,1],[14.70,0.035,1],[14.74,0.025,1],[14.78,0.030,1],[14.82,0.020,1],[14.86,0.025,1],[14.90,-0.3,2],[14.95,0.060,2],[15.00,0.020,1],[15.04,-0.3,2],[15.10,0.3,2],[15.16,-0.120,2],[15.20,0.120,2],[15.24,-0.180,2],[15.28,0.3,2],[15.32,-0.090,2],[15.36,0.050,2],[15.40,-0.3,2],[15.46,0.080,2],[15.50,-0.150,2],[15.54,0.3,2],[15.60,-0.3,2],[15.66,0.020,2],[15.70,-0.3,2],[15.76,0.3,2],[15.82,-0.060,2],[15.88,-0.3,2],[15.94,0.3,2],[16.00,0.030,1],[16.04,0.020,1],[16.08,0.000,1],[16.12,-0.010,1],[16.16,0.010,1],[16.20,-0.3,2],[16.26,0.030,2],[16.30,0.050,1],[16.34,0.040,1],[16.38,0.025,1],[16.42,0.030,1],[16.46,0.020,1],[16.50,-0.3,2],[16.56,0.3,2],[16.62,-0.080,2],[16.66,-0.3,2],[16.72,0.3,2],[16.78,-0.150,2],[16.84,-0.3,2],[16.90,0.200,2],[16.94,0.3,2],[16.98,0.055,1],[17.02,0.040,1],[17.06,0.020,1],[17.08,-0.030,1],[17.10,-0.070,1],[17.12,-0.180,1],[17.16,0.010,1],[17.20,0.3,2],[17.26,-0.3,2],[17.32,0.3,2],[17.38,-0.120,2],[17.42,-0.3,2],[17.48,0.3,2],[17.54,-0.3,2],[17.60,0.100,2],[17.64,0.3,2],[17.70,-0.3,2],[17.76,0.3,2],[17.82,-0.170,2],[17.86,-0.3,2],[17.92,0.3,2],[17.98,-0.3,2],[18.04,0.3,2],[18.10,-0.150,2],[18.14,-0.3,2],[18.22,0.3,2],[18.30,-0.090,1],[18.34,-0.100,1],[18.38,-0.110,1],[18.42,-0.125,1],[18.46,-0.115,1],[18.50,-0.100,1],[18.54,-0.090,1],[18.62,-0.045,1],[18.66,-0.040,1],[18.70,-0.035,1],[18.74,-0.030,1],[18.78,-0.030,1],[18.82,-0.025,1],[18.86,-0.020,1],[18.90,-0.015,1],[18.94,-0.020,1],[18.98,-0.3,2],[19.06,0.3,2],[19.14,-0.3,2],[19.22,0.3,2],[19.30,-0.3,2],[19.38,-0.020,1],[19.42,-0.025,1],[19.46,-0.030,1],[19.50,-0.035,1],[19.54,-0.040,1],[19.58,-0.035,1],[19.62,-0.045,1],[19.66,-0.050,1],[19.70,-0.055,1],[19.74,-0.060,1],[19.78,-0.065,1],[19.82,-0.070,1],[19.86,-0.075,1],[19.90,-0.065,1],[19.94,-0.070,1],[19.98,-0.3,2],[20.06,0.020,1],[20.10,0.010,1],[20.14,0.000,1],[20.18,-0.010,1],[20.22,0.020,1],[20.26,0.040,1],[20.30,0.050,1],[20.34,0.060,1],[20.38,0.070,1],[20.42,0.075,1],[20.46,0.080,1],[20.50,0.070,1],[20.54,0.060,1],[20.58,0.070,1],[20.62,0.080,1],[20.66,0.090,1],[20.70,0.095,1],[20.74,0.100,1],[20.78,0.105,1],[20.82,0.110,1],[20.86,0.120,1],[20.90,0.130,1],[20.94,0.135,1],[20.98,0.140,1],[21.02,0.145,1],[21.06,0.130,1],[21.10,0.120,1],[21.14,0.110,1],[21.18,-0.035,2],[21.22,-0.060,2],[21.26,-0.090,2],[21.30,-0.110,2],[21.34,-0.120,2],[21.38,-0.080,2],[21.42,-0.050,2],[21.46,0.030,2],[21.50,0.050,1],[21.54,0.055,1],[21.58,0.040,1],[21.62,0.035,1],[21.66,0.030,1],[21.70,0.040,1],[21.74,0.030,1],[21.78,0.020,1],[21.82,0.010,1],[21.86,0.000,1],[21.90,-0.010,1],[21.94,-0.005,2],[21.98,-0.015,1],[22.02,-0.020,1],[22.06,-0.010,1],[22.10,0.000,1],[22.14,-0.010,2],[22.18,0.000,1],[22.22,0.010,1],[22.26,0.020,1],[22.30,0.030,1],[22.34,0.040,1],[22.38,0.045,1],[22.42,0.050,1],[22.46,0.040,1],[22.50,0.035,1],[22.54,0.030,1],[22.58,0.040,1],[22.62,0.050,1],[22.66,0.055,1],[22.70,0.050,1],[22.74,0.040,1],[22.78,0.030,1],[22.82,0.040,1],[22.86,0.050,1],[22.90,0.055,1],[22.94,0.045,1],[22.98,0.030,1],[23.02,0.020,1],[23.06,0.010,1],[23.10,0.005,2],[23.14,-0.010,2],[23.18,-0.020,2],[23.22,-0.010,2],[23.26,0.000,2],[23.30,0.035,1],[23.34,0.040,1],[23.38,0.045,1],[23.42,0.040,1]
];

const xTickVals = [0, 3, 6, 9, 12, 15, 18, 21];
const xTickText = ['00:00', '03:00', '06:00', '09:00', '12:00', '15:00', '18:00', '21:00'];
const yTickValsTop = [0.2, 0.1, 0, -0.1, -0.2];
const yTickTextTop = ['0.2', '0.1', '0.0', '-0.1', '-0.2'];
const yTickValsLow = [0.1, 0, -0.1, -0.2];
const yTickTextLow = ['0.1', '0.0', '-0.1', '-0.2'];
const panelLabels = ['E-W (m)', 'N-S (m)', 'U-D (m)'];
const statTexts = ['AVE=0.009m STD=0.139m RMS=0.140m', 'AVE=-0.026m STD=0.146m RMS=0.148m', 'AVE=0.002m STD=0.267m RMS=0.267m'];
const oriText = 'ORI= 35.64235344°  140.44830086°  77.853m';
const titleText = 'BL=66.5 km';

const FIX = '#008000', FLT = '#ffa500', LINE = '#c8c8c8';
const W = 647, H = 483, ML = 37, MR = 0, MT = 19, MB = 13;
const PW = W - ML - MR, PH = H - MT - MB;
const px = x => (x - ML) / PW;
const py = y => (H - MB - y) / PH;

function build(rows, ax) {
  const s = rows.slice().sort((a, b) => a[0] - b[0]);
  const fix = s.filter(r => r[2] === 1), flt = s.filter(r => r[2] === 2);
  const mk = (arr, c) => ({
    x: arr.map(r => r[0]), y: arr.map(r => r[1]), xaxis: 'x', yaxis: ax,
    type: 'scatter', mode: 'markers', hoverinfo: 'skip',
    marker: {symbol: 'cross-thin', size: 3.8, color: c, line: {color: c, width: 1.1}}
  });
  return [
    {x: s.map(r => r[0]), y: s.map(r => r[1]), xaxis: 'x', yaxis: ax, type: 'scatter',
     mode: 'lines', line: {color: LINE, width: 1}, hoverinfo: 'skip'},
    mk(flt, FLT), mk(fix, FIX)
  ];
}

const data = [].concat(build(EW, 'y'), build(NS, 'y2'), build(UD, 'y3'));

const tickFont = {family: 'DejaVu Sans, sans-serif', size: 11, color: '#1e1e5a'};
function yax(dom, vals, text) {
  return {
    domain: dom, anchor: 'x', range: [-0.2, 0.2], fixedrange: true,
    tickvals: vals, ticktext: text, ticks: '', tickfont: tickFont,
    showgrid: true, gridcolor: '#c8c8c8', griddash: 'dash', gridwidth: 1,
    zeroline: true, zerolinecolor: '#c0c0c0', zerolinewidth: 1.5,
    showline: false
  };
}

const annFont = {family: 'DejaVu Sans, sans-serif', size: 10, color: '#1a1a1a'};
const panelY = [32, 183, 333];
const statX = [442, 438, 443];
const statY = [44, 183, 333];
const annotations = [];
panelLabels.forEach((t, i) => annotations.push({
  text: t, xref: 'paper', yref: 'paper', x: px(43), y: py(panelY[i]),
  xanchor: 'left', yanchor: 'middle', showarrow: false,
  font: {family: 'DejaVu Sans, sans-serif', size: 10.5, color: '#2a2a4a'}
}));
statTexts.forEach((t, i) => annotations.push({
  text: t, xref: 'paper', yref: 'paper', x: px(statX[i]), y: py(statY[i]),
  xanchor: 'left', yanchor: 'middle', showarrow: false, font: annFont
}));
annotations.push({
  text: oriText, xref: 'paper', yref: 'paper', x: px(405), y: py(31),
  xanchor: 'left', yanchor: 'middle', showarrow: false, font: annFont
});
annotations.push({
  text: '<b>' + titleText + '</b>', xref: 'paper', yref: 'paper', x: px(323), y: py(23),
  xanchor: 'center', yanchor: 'bottom', showarrow: false,
  font: {family: 'DejaVu Sans, sans-serif', size: 37, color: '#000000'}
});

const border = {color: '#c0c0c0', width: 2};
const shapes = [
  {type: 'line', xref: 'paper', yref: 'paper', x0: 0, x1: 1.05, y0: 1, y1: 1, line: border},
  {type: 'line', xref: 'paper', yref: 'paper', x0: 0, x1: 1.05, y0: 2/3, y1: 2/3, line: border},
  {type: 'line', xref: 'paper', yref: 'paper', x0: 0, x1: 1.05, y0: 1/3, y1: 1/3, line: border},
  {type: 'line', xref: 'paper', yref: 'paper', x0: 0, x1: 1.05, y0: 0, y1: 0, line: border},
  {type: 'line', xref: 'paper', yref: 'paper', x0: 0, x1: 0, y0: 0, y1: 1, line: {color: '#c0c0c0', width: 1.5}}
];

const layout = {
  width: W, height: H, margin: {l: ML, r: MR, t: MT, b: MB, pad: 0},
  paper_bgcolor: '#ffffff', plot_bgcolor: '#ffffff', showlegend: false,
  xaxis: {
    domain: [0, 1], anchor: 'y3', range: [0, (W - ML) / 26], fixedrange: true,
    tickvals: xTickVals, ticktext: xTickText, ticks: '', tickfont: tickFont,
    showgrid: true, gridcolor: '#c8c8c8', griddash: 'dash', gridwidth: 1,
    zeroline: false, showline: false
  },
  yaxis: yax([2/3, 1], yTickValsTop, yTickTextTop),
  yaxis2: yax([1/3, 2/3], yTickValsLow, yTickTextLow),
  yaxis3: yax([0, 1/3], yTickValsLow, yTickTextLow),
  annotations: annotations, shapes: shapes
};

Plotly.newPlot('chart', data, layout, {displayModeBar: false, staticPlot: true});
</script>
</body>
</html>
